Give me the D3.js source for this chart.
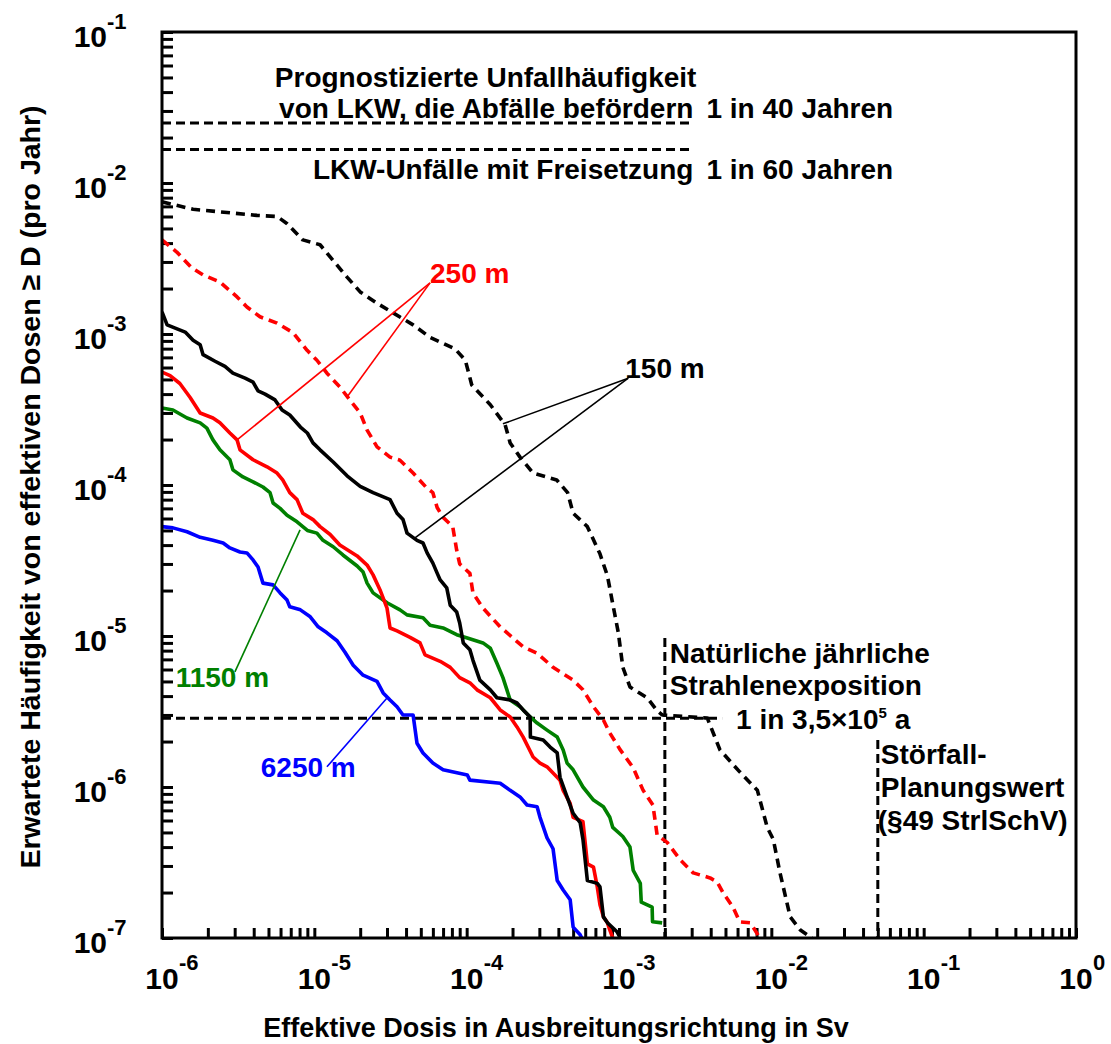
<!DOCTYPE html>
<html>
<head>
<meta charset="utf-8">
<script src="https://cdn.jsdelivr.net/npm/d3@7"></script>
<style>
  body { margin: 0; background: #fff; }
  text { font-family: Arial, "Liberation Sans", sans-serif; font-weight: bold; }
</style>
</head>
<body>
<svg width="1111" height="1044"></svg>
<script>
// curves: [dose in Sv, expected frequency per year]
var curve150mDashed = [[1.0e-6,7.5e-3],[1.6e-6,6.7e-3],[4.2e-6,6.1e-3],[5.7e-6,6.0e-3],[6.6e-6,5.4e-3],[8.4e-6,4.2e-3],[1.09e-5,3.9e-3],[1.27e-5,3.24e-3],[1.64e-5,2.38e-3],[2.0e-5,1.9e-3],[2.58e-5,1.6e-3],[3.29e-5,1.38e-3],[4.45e-5,1.15e-3],[5.75e-5,9.5e-4],[8.4e-5,7.96e-4],[9.8e-5,6.7e-4],[1.08e-4,4.6e-4],[1.43e-4,3.4e-4],[1.79e-4,2.5e-4],[1.93e-4,1.9e-4],[2.24e-4,1.53e-4],[2.73e-4,1.2e-4],[3.9e-4,1.08e-4],[4.6e-4,8.9e-5],[5.0e-4,6.5e-5],[6.2e-4,5.3e-5],[7.5e-4,3.5e-5],[8.4e-4,2.5e-5],[9.0e-4,1.73e-5],[9.9e-4,1.05e-5],[1.06e-3,6.2e-6],[1.18e-3,4.6e-6],[1.53e-3,3.9e-6],[1.78e-3,3.2e-6],[1.92e-3,3.0e-6],[3.8e-3,2.86e-6],[4.6e-3,1.76e-6],[6.2e-3,1.26e-6],[8.1e-3,9.5e-7],[9.4e-3,5.4e-7],[1.03e-2,4.5e-7],[1.14e-2,2.7e-7],[1.33e-2,1.38e-7],[1.55e-2,1.13e-7],[1.85e-2,1.0e-7]];

var curve250mDashed = [[1.0e-6,4.2e-3],[1.25e-6,3.49e-3],[1.57e-6,2.74e-3],[1.86e-6,2.46e-3],[2.4e-6,2.21e-3],[3.11e-6,1.76e-3],[3.61e-6,1.51e-3],[4.4e-6,1.3e-3],[5.69e-6,1.18e-3],[7.25e-6,1.02e-3],[8.96e-6,7.8e-4],[1.04e-5,6.7e-4],[1.21e-5,5.5e-4],[1.47e-5,4.46e-4],[1.71e-5,3.66e-4],[2.0e-5,3.0e-4],[2.22e-5,2.31e-4],[2.58e-5,1.79e-4],[3.14e-5,1.53e-4],[3.65e-5,1.46e-4],[4.45e-5,1.2e-4],[5.5e-5,9.5e-5],[6.0e-5,8.9e-5],[6.4e-5,7.1e-5],[7.0e-5,6.1e-5],[8.1e-5,5.3e-5],[8.6e-5,3.7e-5],[9.0e-5,3.0e-5],[1.05e-4,2.6e-5],[1.1e-4,1.93e-5],[1.28e-4,1.53e-5],[1.66e-4,1.15e-5],[2.34e-4,8.5e-6],[2.9e-4,7.7e-6],[3.69e-4,6.2e-6],[5.0e-4,5.1e-6],[5.8e-4,4.4e-6],[6.8e-4,3.4e-6],[7.9e-4,2.78e-6],[8.7e-4,2.28e-6],[1.02e-3,1.76e-6],[1.24e-3,1.34e-6],[1.44e-3,9.5e-7],[1.67e-3,7.6e-7],[1.78e-3,4.8e-7],[2.07e-3,4.3e-7],[2.52e-3,3.3e-7],[3.07e-3,2.7e-7],[3.96e-3,2.5e-7],[4.41e-3,2.35e-7],[4.83e-3,1.99e-7],[5.6e-3,1.6e-7],[6.2e-3,1.28e-7],[7.3e-3,1.26e-7],[8.4e-3,1.0e-7]];

var curve150m = [[1.0e-6,1.4e-3],[1.08e-6,1.15e-3],[1.42e-6,1.03e-3],[1.6e-6,9.1e-4],[1.78e-6,8.5e-4],[1.86e-6,7.3e-4],[2.23e-6,6.6e-4],[2.59e-6,6.1e-4],[2.92e-6,5.5e-4],[3.51e-6,5.1e-4],[3.96e-6,4.8e-4],[4.27e-6,4.2e-4],[4.75e-6,4.0e-4],[5.52e-6,3.66e-4],[6.14e-6,3.14e-4],[6.9e-6,2.91e-4],[8.1e-6,2.42e-4],[9.0e-6,2.21e-4],[9.8e-6,1.9e-4],[1.09e-5,1.71e-4],[1.33e-5,1.42e-4],[1.64e-5,1.15e-4],[2.0e-5,9.8e-5],[2.43e-5,8.9e-5],[3.14e-5,8.0e-5],[3.49e-5,6.5e-5],[3.82e-5,5.9e-5],[4.06e-5,4.8e-5],[4.72e-5,4.3e-5],[5.17e-5,4.13e-5],[5.5e-5,3.55e-5],[6.0e-5,3.04e-5],[6.4e-5,2.61e-5],[6.7e-5,2.35e-5],[7.4e-5,2.08e-5],[7.8e-5,1.6e-5],[8.6e-5,1.44e-5],[9.0e-5,1.22e-5],[9.5e-5,9.0e-6],[1.05e-4,8.1e-6],[1.1e-4,6.9e-6],[1.22e-4,5.1e-6],[1.43e-4,4.4e-6],[1.58e-4,3.9e-6],[1.93e-4,3.77e-6],[2.14e-4,3.6e-6],[2.35e-4,3.24e-6],[2.61e-4,2.91e-6],[2.62e-4,2.14e-6],[3.18e-4,2.05e-6],[3.53e-4,1.84e-6],[3.93e-4,1.68e-6],[4.1e-4,1.16e-6],[4.56e-4,8.6e-7],[5.0e-4,6.7e-7],[5.56e-4,5.8e-7],[5.8e-4,4.5e-7],[6.2e-4,2.4e-7],[7.2e-4,2.3e-7],[7.5e-4,2.18e-7],[7.9e-4,1.38e-7],[8.4e-4,1.26e-7],[9.7e-4,1.1e-7],[1.02e-3,1.0e-7]];

var curve250m = [[1.0e-6,5.6e-4],[1.13e-6,5.3e-4],[1.31e-6,4.7e-4],[1.53e-6,3.8e-4],[1.78e-6,3.0e-4],[2.16e-6,2.78e-4],[2.4e-6,2.58e-4],[2.79e-6,2.21e-4],[3.11e-6,1.99e-4],[3.25e-6,1.71e-4],[3.96e-6,1.47e-4],[4.89e-6,1.32e-4],[5.69e-6,1.2e-4],[6.2e-6,1.08e-4],[6.9e-6,8.9e-5],[7.7e-6,8.0e-5],[8.4e-6,6.5e-5],[9.8e-6,5.9e-5],[1.09e-5,5.3e-5],[1.27e-5,4.7e-5],[1.47e-5,4.0e-5],[1.91e-5,3.39e-5],[2.22e-5,2.95e-5],[2.43e-5,2.54e-5],[2.7e-5,2.02e-5],[3.0e-5,1.53e-5],[3.14e-5,1.13e-5],[3.49e-5,1.08e-5],[4.25e-5,9.8e-6],[4.94e-5,9.0e-6],[5.33e-5,7.5e-6],[6.7e-5,6.8e-6],[7.8e-5,6.2e-6],[9.0e-5,5.3e-6],[1.05e-4,4.9e-6],[1.17e-4,4.4e-6],[1.43e-4,3.9e-6],[1.66e-4,3.24e-6],[1.93e-4,2.91e-6],[2.14e-4,2.5e-6],[2.35e-4,2.14e-6],[2.73e-4,1.58e-6],[3.03e-4,1.44e-6],[3.37e-4,1.36e-6],[3.69e-4,1.24e-6],[4.1e-4,1.11e-6],[4.3e-4,9.5e-7],[4.78e-4,7.8e-7],[5.0e-4,6.3e-7],[5.8e-4,5.9e-7],[6.2e-4,3.1e-7],[6.8e-4,2.95e-7],[7.2e-4,2.18e-7],[7.5e-4,1.66e-7],[7.9e-4,1.38e-7],[8.4e-4,1.26e-7],[8.7e-4,1.13e-7],[9.1e-4,1.0e-7]];

var curve1150m = [[1.0e-6,3.24e-4],[1.18e-6,3.14e-4],[1.46e-6,2.78e-4],[1.78e-6,2.58e-4],[1.97e-6,2.38e-4],[2.16e-6,1.99e-4],[2.4e-6,1.71e-4],[2.79e-6,1.47e-4],[2.92e-6,1.26e-4],[3.4e-6,1.13e-4],[3.96e-6,1.05e-4],[4.6e-6,9.7e-5],[5.12e-6,8.9e-5],[5.36e-6,7.6e-5],[5.96e-6,7.0e-5],[6.62e-6,6.3e-5],[7.7e-6,5.7e-5],[9.0e-6,5.0e-5],[1.04e-5,4.8e-5],[1.14e-5,4.3e-5],[1.33e-5,3.9e-5],[1.54e-5,3.44e-5],[1.91e-5,2.91e-5],[2.09e-5,2.65e-5],[2.22e-5,2.24e-5],[2.43e-5,1.93e-5],[3.0e-5,1.66e-5],[3.65e-5,1.49e-5],[4.06e-5,1.38e-5],[5.17e-5,1.32e-5],[5.75e-5,1.18e-5],[7.0e-5,1.13e-5],[8.6e-5,1.02e-5],[1.01e-4,9.7e-6],[1.28e-4,9.0e-6],[1.43e-4,8.3e-6],[1.58e-4,6.6e-6],[1.73e-4,5.3e-6],[1.93e-4,3.77e-6],[2.24e-4,3.4e-6],[2.61e-4,2.91e-6],[2.9e-4,2.65e-6],[3.37e-4,2.38e-6],[3.93e-4,2.14e-6],[4.3e-4,1.76e-6],[4.56e-4,1.44e-6],[5.0e-4,1.3e-6],[5.8e-4,1.0e-6],[6.8e-4,8.2e-7],[7.9e-4,7.4e-7],[8.7e-4,6.3e-7],[9.1e-4,5.4e-7],[1.06e-3,4.7e-7],[1.18e-3,4.0e-7],[1.24e-3,2.8e-7],[1.38e-3,2.3e-7],[1.4e-3,1.73e-7],[1.65e-3,1.6e-7],[1.66e-3,1.28e-7],[1.92e-3,1.26e-7]];

var curve6250m = [[1.0e-6,5.3e-5],[1.18e-6,5.2e-5],[1.46e-6,4.9e-5],[1.78e-6,4.5e-5],[2.16e-6,4.3e-5],[2.52e-6,4.13e-5],[2.79e-6,3.83e-5],[3.25e-6,3.6e-5],[3.61e-6,3.55e-5],[3.96e-6,3.19e-5],[4.27e-6,2.86e-5],[4.6e-6,2.24e-5],[5.36e-6,2.18e-5],[5.96e-6,1.93e-5],[6.62e-6,1.73e-5],[6.9e-6,1.56e-5],[8.1e-6,1.49e-5],[9.4e-6,1.34e-5],[1.06e-5,1.15e-5],[1.21e-5,1.05e-5],[1.41e-5,9.3e-6],[1.59e-5,7.8e-6],[1.8e-5,6.4e-6],[2.09e-5,5.5e-6],[2.58e-5,5.0e-6],[2.83e-5,4.2e-6],[3.14e-5,3.77e-6],[3.49e-5,3.4e-6],[3.82e-5,3.0e-6],[4.45e-5,3.0e-6],[4.72e-5,1.95e-6],[5.17e-5,1.68e-6],[6.0e-5,1.44e-6],[7.0e-5,1.3e-6],[1.01e-4,1.2e-6],[1.05e-4,1.11e-6],[1.66e-4,1.06e-6],[1.93e-4,9.5e-7],[2.24e-4,8.6e-7],[2.49e-4,7.6e-7],[2.9e-4,7.4e-7],[3.03e-4,6.3e-7],[3.37e-4,4.6e-7],[3.69e-4,3.9e-7],[3.93e-4,2.4e-7],[4.3e-4,2.08e-7],[4.78e-4,1.79e-7],[5.0e-4,1.18e-7],[5.56e-4,1.05e-7],[5.7e-4,1.0e-7]];

// reference values
var truckAccidentRate = 1 / 40;      // 1 in 40 Jahren
var releaseAccidentRate = 1 / 60;    // 1 in 60 Jahren
var naturalRate = 1 / 3.5e5;         // 1 in 3,5x10^5 a
var naturalDose = 2.0e-3;            // natuerliche jaehrliche Strahlenexposition
var planningDose = 0.05;             // Stoerfall-Planungswert

var xDecades = [-6, -5, -4, -3, -2, -1, 0];
var yDecades = [-7, -6, -5, -4, -3, -2, -1];

// dimensions and margins
var svg    = d3.select("svg"),
    margin = {top: 32, right: 35, bottom: 106, left: 162},
    width  = +svg.attr("width") - margin.left - margin.right,
    height = +svg.attr("height") - margin.top - margin.bottom;

var x = d3.scaleLog().domain([1e-6, 1]).range([0, width]);
var y = d3.scaleLog().domain([1e-7, 1e-1]).range([height, 0]);

var g = svg.append("g")
  .attr("transform", "translate(" + margin.left + "," + margin.top + ")");

svg.append("defs").append("clipPath")
    .attr("id", "clip")
  .append("rect")
    .attr("width", width)
    .attr("height", height);

// minor + major ticks, pointing inward
function logTicks(lo, hi) {
  var t = [];
  for (var k = lo; k < hi; k++)
    for (var m = 1; m < 10; m++) t.push(m * Math.pow(10, k));
  t.push(Math.pow(10, hi));
  return t;
}

var gX = g.append("g")
  .attr("transform", "translate(0," + height + ")")
  .call(d3.axisBottom(x).tickValues(logTicks(-6, 0)).tickSize(-10).tickFormat(""));
var gY = g.append("g")
  .call(d3.axisLeft(y).tickValues(logTicks(-7, -1)).tickSize(-11).tickFormat(""));
[gX, gY].forEach(function(a) {
  a.select(".domain").remove();
  a.selectAll(".tick line").attr("stroke", "#000").attr("stroke-width", 3);
});

// decade labels 10^k
xDecades.forEach(function(k) {
  var px = x(Math.pow(10, k));
  g.append("text").attr("x", px).attr("y", height + 51)
    .attr("text-anchor", "middle").style("font-size", "30px").text("10");
  g.append("text").attr("x", px + 17).attr("y", height + 32)
    .style("font-size", "22px").text(k === 0 ? "0" : "-" + (-k));
});
yDecades.forEach(function(k) {
  var py = y(Math.pow(10, k));
  g.append("text").attr("x", -55).attr("y", py + 15)
    .attr("text-anchor", "end").style("font-size", "30px").text("10");
  g.append("text").attr("x", -55).attr("y", py - 3)
    .style("font-size", "22px").text("-" + (-k));
});

// axis titles
svg.append("text")
  .attr("x", margin.left + 394).attr("y", 1037)
  .attr("text-anchor", "middle").style("font-size", "27px")
  .text("Effektive Dosis in Ausbreitungsrichtung in Sv");
svg.append("text")
  .attr("transform", "translate(40," + 487 + ") rotate(-90)")
  .attr("text-anchor", "middle").style("font-size", "28.5px")
  .text("Erwartete Häufigkeit von effektiven Dosen \u2265 D (pro Jahr)");

// reference lines
var ref = g.append("g")
  .attr("fill", "none").attr("stroke", "#000")
  .attr("stroke-width", 3).attr("stroke-dasharray", "9,5");
[truckAccidentRate, releaseAccidentRate].forEach(function(r) {
  ref.append("line").attr("x1", 0).attr("x2", x(2.9e-3))
    .attr("y1", y(r)).attr("y2", y(r));
});
ref.append("line").attr("x1", 0).attr("x2", x(4.75e-3))
  .attr("y1", y(naturalRate)).attr("y2", y(naturalRate));
ref.append("line").attr("x1", x(naturalDose)).attr("x2", x(naturalDose))
  .attr("y1", y(9.7e-6)).attr("y2", height);
ref.append("line").attr("x1", x(planningDose)).attr("x2", x(planningDose))
  .attr("y1", y(2.05e-6)).attr("y2", height);

// curves
var line = d3.line()
  .x(function(d) { return x(d[0]); })
  .y(function(d) { return y(d[1]); });

var series = [
  {data: curve6250m,      color: "#0000ff", dash: null},
  {data: curve1150m,      color: "#008000", dash: null},
  {data: curve250m,       color: "#ff0000", dash: null},
  {data: curve150m,       color: "#000000", dash: null},
  {data: curve250mDashed, color: "#ff0000", dash: "9,6"},
  {data: curve150mDashed, color: "#000000", dash: "9,6"}
];
var curves = g.append("g").attr("clip-path", "url(#clip)");
series.forEach(function(s) {
  curves.append("path").datum(s.data)
    .attr("fill", "none")
    .attr("stroke", s.color)
    .attr("stroke-width", 3.6)
    .attr("stroke-linejoin", "round")
    .attr("stroke-dasharray", s.dash)
    .attr("d", line);
});

// labels with leader lines
var labels = [
  {text: "250 m",  color: "#ff0000", at: [5.75e-5, 2.18e-3], tip: [5.75e-5, 2.18e-3],
   to: [[3.11e-6, 1.99e-4], [1.64e-5, 3.83e-4]]},
  {text: "150 m",  color: "#000000", at: [1.1e-3, 5.1e-4], tip: [1.15e-3, 5.1e-4],
   to: [[1.73e-4, 2.54e-4], [4.58e-5, 4.46e-5]]},
  {text: "1150 m", color: "#008000", at: [1.23e-6, 4.6e-6], tip: [3.01e-6, 5.78e-6],
   to: [[8.06e-6, 5.04e-5]]},
  {text: "6250 m", color: "#0000ff", at: [4.45e-6, 1.17e-6], tip: [1.21e-5, 1.36e-6],
   to: [[3.0e-5, 3.88e-6]]}
];
labels.forEach(function(l) {
  l.to.forEach(function(t) {
    g.append("line")
      .attr("x1", x(l.tip[0])).attr("y1", y(l.tip[1]))
      .attr("x2", x(t[0])).attr("y2", y(t[1]))
      .attr("stroke", l.color).attr("stroke-width", 1.6);
  });
  g.append("text").attr("x", x(l.at[0])).attr("y", y(l.at[1]))
    .attr("fill", l.color).style("font-size", "28px").text(l.text);
});

// annotation texts
function note(px, py, txt, anchor) {
  return g.append("text").attr("x", px).attr("y", py)
    .attr("text-anchor", anchor || "start").style("font-size", "28px").text(txt);
}
var endX = x(2.9e-3) + 4;
note(endX + 3, y(truckAccidentRate) - 36, "Prognostizierte Unfallhäufigkeit", "end");
note(endX, y(truckAccidentRate) - 5, "von LKW, die Abfälle befördern", "end");
note(endX, y(releaseAccidentRate) + 29, "LKW-Unfälle mit Freisetzung", "end");
note(endX + 13, y(truckAccidentRate) - 5, "1 in 40 Jahren");
note(endX + 13, y(releaseAccidentRate) + 29, "1 in 60 Jahren");
note(x(naturalDose) + 5, y(naturalRate) - 55, "Natürliche jährliche");
note(x(naturalDose) + 5, y(naturalRate) - 23, "Strahlenexposition");
var t35 = note(x(4.75e-3) + 14, y(naturalRate) + 11, "1 in 3,5\u00d710");
t35.append("tspan").attr("dy", -11).style("font-size", "15px").text("5");
t35.append("tspan").attr("dy", 11).text(" a");
note(x(planningDose) + 3, y(2.05e-6) + 24, "Störfall-");
note(x(planningDose) + 3, y(2.05e-6) + 57, "Planungswert");
note(x(planningDose) + 0, y(2.05e-6) + 90, "(§49 StrlSchV)");

// frame
g.append("rect")
  .attr("width", width).attr("height", height)
  .attr("fill", "none").attr("stroke", "#000").attr("stroke-width", 3);
</script>
</body>
</html>
